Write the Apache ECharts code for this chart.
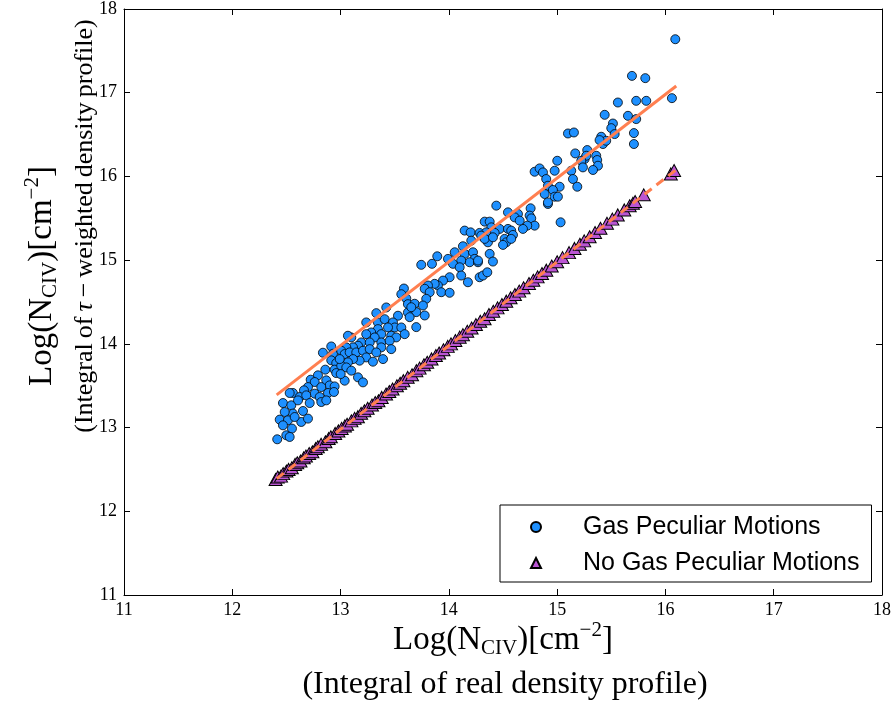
<!DOCTYPE html>
<html><head><meta charset="utf-8">
<script src="https://cdn.jsdelivr.net/npm/echarts@6/dist/echarts.min.js"></script>
<style>html,body{margin:0;padding:0;background:#fff}#c{width:895px;height:709px}</style>
</head><body><div id="c"></div>
<script>
// Axis ticks
const xTicks = [11, 12, 13, 14, 15, 16, 17, 18];
const yTicks = [11, 12, 13, 14, 15, 16, 17, 18];

// Series: Gas Peculiar Motions (x = log N real, y = log N tau-weighted)
const gasPeculiar = [
  [12.914,13.969],[12.837,13.894],[12.930,13.882],[12.914,13.803],[12.960,13.770],[12.859,13.692],[12.945,13.692],[12.960,13.651],[12.791,13.624],[12.724,13.572],[12.761,13.544],[12.868,13.564],[12.899,13.504],[12.822,13.484],[12.945,13.492],[12.699,13.484],[12.662,13.445],[12.560,13.413],[12.530,13.413],[12.761,13.405],[12.884,13.413],[12.622,13.365],[12.683,13.385],[12.807,13.365],[12.939,13.425],[12.468,13.293],[12.545,13.266],[12.607,13.325],[12.715,13.293],[12.822,13.305],[12.868,13.325],[12.653,13.198],[12.560,13.167],[12.484,13.186],[12.438,13.095],[12.514,13.087],[12.637,13.067],[12.699,13.107],[12.576,13.126],[12.468,13.027],[12.551,12.988],[12.499,12.908],[12.415,12.860],[12.530,12.888],
  [13.585,14.661],[13.561,14.593],[13.607,14.542],[13.622,14.474],[13.622,14.375],[13.530,14.336],[13.422,14.435],[13.330,14.367],[13.237,14.256],[13.345,14.256],[13.407,14.295],[13.484,14.256],[13.500,14.196],[13.561,14.196],[13.592,14.116],[13.438,14.196],[13.345,14.176],[13.283,14.136],[13.376,14.116],[13.468,14.097],[13.514,14.077],[13.315,14.077],[13.237,14.116],[13.191,14.017],[13.269,14.017],[13.376,14.017],[13.453,14.037],[13.099,14.077],[13.068,14.097],[13.161,13.978],[13.115,13.958],[13.053,13.958],[13.006,13.918],[13.038,13.878],[13.084,13.898],[13.145,13.898],[13.207,13.918],[13.269,13.937],[13.376,13.958],[13.468,13.937],[13.330,13.898],[13.237,13.838],[13.176,13.799],[13.115,13.818],[13.068,13.779],[13.299,13.787],[13.392,13.818],[13.006,13.739],[13.053,13.719],[13.099,13.680],[13.038,13.560],[13.161,13.600],[13.207,13.540],[12.992,13.818],[13.001,13.639],
  [14.146,15.353],[14.201,15.332],[14.284,15.325],[14.207,15.233],[14.130,15.166],[14.054,15.094],[14.146,15.075],[14.223,15.094],[14.238,15.015],[14.192,14.975],[14.269,14.975],[14.114,14.995],[13.992,15.015],[14.038,14.956],[14.100,14.915],[14.114,14.816],[14.176,14.736],[14.284,14.796],[13.893,15.046],[13.844,14.956],[13.745,14.944],[14.007,14.796],[13.946,14.756],[13.899,14.697],[13.869,14.717],[13.807,14.697],[13.777,14.658],[13.823,14.617],[13.930,14.617],[14.007,14.610],[13.791,14.538],[13.684,14.479],[13.761,14.458],[13.699,14.379],[13.653,14.438],[13.777,14.339],[13.699,14.200],[13.638,14.319],
  [14.792,16.056],[14.838,16.096],[14.869,16.048],[14.899,15.969],[14.915,15.889],[14.885,15.790],[14.915,15.671],[14.755,15.619],[14.746,15.532],[14.761,15.499],[14.792,15.412],[14.724,15.412],[14.684,15.373],[14.638,15.552],[14.608,15.511],[14.654,15.472],[14.546,15.571],[14.438,15.651],[14.331,15.460],[14.377,15.460],[14.392,15.392],[14.469,15.373],[14.423,15.325],[14.345,15.332],[14.299,15.293],[14.361,15.213],[14.331,15.254],[14.407,15.273],[14.546,15.373],[14.576,15.353],[14.592,15.301],[14.515,15.254],[14.530,15.213],[14.576,15.254],[14.500,15.182],[14.377,15.075],[14.407,14.983],[14.315,14.816],[14.355,14.855],[14.269,14.995],
  [15.561,16.883],[15.439,16.736],[15.515,16.632],[15.500,16.577],[15.531,16.506],[15.407,16.474],[15.423,16.387],[15.453,16.426],[15.392,16.434],[15.100,16.513],[15.155,16.525],[15.167,16.275],[15.278,16.315],[15.254,16.208],[15.269,16.247],[15.223,16.187],[15.238,16.108],[15.361,16.247],[15.370,16.196],[15.377,16.128],[15.331,16.077],[15.001,16.187],[14.977,16.068],[15.130,16.068],[15.146,15.969],[15.186,15.877],[15.023,15.877],[14.961,15.838],[14.977,15.758],[15.007,15.758],[14.915,15.690],[15.032,15.452],
  [16.091,17.639],[15.691,17.201],[15.814,17.174],[15.730,16.903],[15.823,16.903],[16.060,16.935],[15.654,16.724],[15.730,16.685],[15.709,16.518],[15.709,16.387]
];

// Series: No Gas Peculiar Motions
const noGasPeculiar = [
  [12.40,12.38],[12.42,12.41],[12.45,12.42],[12.47,12.45],[12.50,12.48],[12.52,12.50],[12.55,12.52],[12.58,12.56],[12.60,12.58],[12.63,12.60],
  [12.66,12.64],[12.68,12.66],[12.71,12.69],[12.74,12.71],[12.77,12.75],[12.79,12.77],[12.82,12.80],[12.86,12.83],[12.89,12.87],[12.91,12.89],
  [12.95,12.93],[12.98,12.96],[13.01,12.99],[13.04,13.02],[13.06,13.04],[13.10,13.08],[13.13,13.11],[13.16,13.13],[13.19,13.17],[13.22,13.20],
  [13.25,13.23],[13.29,13.27],[13.32,13.30],[13.35,13.32],[13.38,13.36],[13.42,13.40],[13.45,13.43],[13.48,13.46],[13.52,13.50],[13.55,13.53],
  [13.58,13.56],[13.62,13.60],[13.66,13.63],[13.70,13.68],[13.73,13.71],[13.77,13.75],[13.80,13.78],[13.84,13.82],[13.88,13.86],[13.91,13.89],
  [13.95,13.93],[13.99,13.97],[14.02,14.00],[14.06,14.04],[14.10,14.08],[14.13,14.11],[14.17,14.15],[14.21,14.19],[14.25,14.23],[14.29,14.27],
  [14.33,14.30],[14.37,14.35],[14.41,14.39],[14.45,14.43],[14.49,14.47],[14.53,14.51],[14.57,14.55],[14.61,14.59],[14.65,14.63],[14.69,14.67],
  [14.74,14.72],[14.78,14.76],[14.82,14.80],[14.86,14.84],[14.90,14.88],[14.95,14.93],[15.00,14.98],[15.05,15.03],[15.11,15.09],[15.16,15.14],
  [15.21,15.19],[15.25,15.23],[15.30,15.28],[15.35,15.33],[15.40,15.38],[15.46,15.44],[15.51,15.49],[15.56,15.54],[15.62,15.60],[15.67,15.65],
  [15.70,15.68],[15.72,15.70],[15.80,15.78],[16.05,16.03],[16.08,16.07]
];

// Fit lines
const fitGas = [[12.41, 13.39], [16.10, 17.08]];
const fitNoGas = [[12.41, 12.39], [16.10, 16.08]];

const serif = "'Liberation Serif', 'DejaVu Serif', serif";
const chart = echarts.init(document.getElementById('c'), null, {renderer: 'canvas'});

const axisCommon = {
  type: 'value', min: 11, max: 18, interval: 1,
  axisLine: {show: true, onZero: false, lineStyle: {color: '#000', width: 1}},
  axisTick: {show: true, inside: true, length: 6, lineStyle: {color: '#000', width: 1}},
  splitLine: {show: false}
};

function richSet(size, spaceW) {
  const sub = Math.round(size * 0.64);
  return {
    m: {fontSize: size, fontFamily: serif, color: '#000', lineHeight: size + 3},
    mi: {fontSize: size, fontFamily: serif, color: '#000', lineHeight: size + 3, fontStyle: 'italic'},
    sp: {fontSize: size, fontFamily: serif, width: spaceW || 4},
    s: {fontSize: sub, fontFamily: serif, color: '#000', lineHeight: sub, padding: [Math.round(size * 0.5), 0, 0, 0]},
    p: {fontSize: sub, fontFamily: serif, color: '#000', lineHeight: sub, padding: [0, 0, Math.round(size * 0.62), 0]}
  };
}
const labelLine1 = '{m|Log(N}{s|CIV}{m|)[cm}{p|−2}{m|]}';

chart.setOption({
  backgroundColor: '#fff',
  animation: false,
  grid: {left: 124, right: 13, top: 8, bottom: 114, containLabel: false},
  xAxis: [
    Object.assign({}, axisCommon, {position: 'bottom',
      axisLabel: {show: true, margin: 6, fontFamily: serif, fontSize: 18, color: '#000',
        formatter: v => xTicks.includes(v) ? String(v) : ''}}),
    Object.assign({}, axisCommon, {position: 'top', axisLabel: {show: false}})
  ],
  yAxis: [
    Object.assign({}, axisCommon, {position: 'left',
      axisLabel: {show: true, margin: 7, fontFamily: serif, fontSize: 18, color: '#000',
        formatter: v => yTicks.includes(v) ? String(v) : ''}}),
    Object.assign({}, axisCommon, {position: 'right', axisLabel: {show: false}})
  ],
  legend: {
    data: [{name: 'Gas Peculiar Motions', icon: 'circle'}, {name: 'No Gas Peculiar Motions', icon: 'triangle'}],
    orient: 'vertical', left: 500, top: 505,
    itemWidth: 10, itemHeight: 10, itemGap: 10,
    borderColor: '#000', borderWidth: 1, borderRadius: 0,
    padding: [9, 12, 6, 30],
    selectedMode: false,
    textStyle: {fontFamily: "'Liberation Sans', Arial, sans-serif", fontSize: 25, color: '#000', lineHeight: 26, padding: [0, 0, 0, 37]}
  },
  series: [
    {name: 'Gas Peculiar Motions', type: 'scatter', data: gasPeculiar, symbol: 'circle', symbolSize: 9,
      itemStyle: {color: '#1E90FF', borderColor: '#000', borderWidth: 0.8, opacity: 1}, z: 2},
    {name: 'No Gas Peculiar Motions', type: 'scatter', data: noGasPeculiar, symbol: 'triangle', symbolSize: [13, 12],
      itemStyle: {color: '#BA55D3', borderColor: '#000', borderWidth: 1, opacity: 1}, z: 3},
    {name: 'fitGas', type: 'line', data: fitGas, symbol: 'none', lineStyle: {color: '#FF7F50', width: 3}, z: 4},
    {name: 'fitNoGas', type: 'line', data: fitNoGas, symbol: 'none', lineStyle: {color: '#FF7F50', width: 3, type: [9, 6]}, z: 4}
  ],
  graphic: [
    {type: 'text', x: 503, y: 640, style: {text: labelLine1, rich: richSet(33), align: 'center', verticalAlign: 'middle'}},
    {type: 'text', x: 505, y: 685, style: {text: '{m|(Integral of real density profile)}', rich: richSet(32), align: 'center', verticalAlign: 'middle'}},
    {type: 'text', x: 42, y: 276, rotation: Math.PI / 2, style: {text: labelLine1, rich: richSet(33), align: 'center', verticalAlign: 'middle'}},
    {type: 'text', x: 85, y: 226, rotation: Math.PI / 2, style: {text: '{m|(Integral}{sp| }{m|of}{sp| }{mi|τ}{sp| }{m|−}{sp| }{m|weighted}{sp| }{m|density}{sp| }{m|profile)}', rich: richSet(26, 5), align: 'center', verticalAlign: 'middle'}}
  ]
});
</script>
</body></html>
